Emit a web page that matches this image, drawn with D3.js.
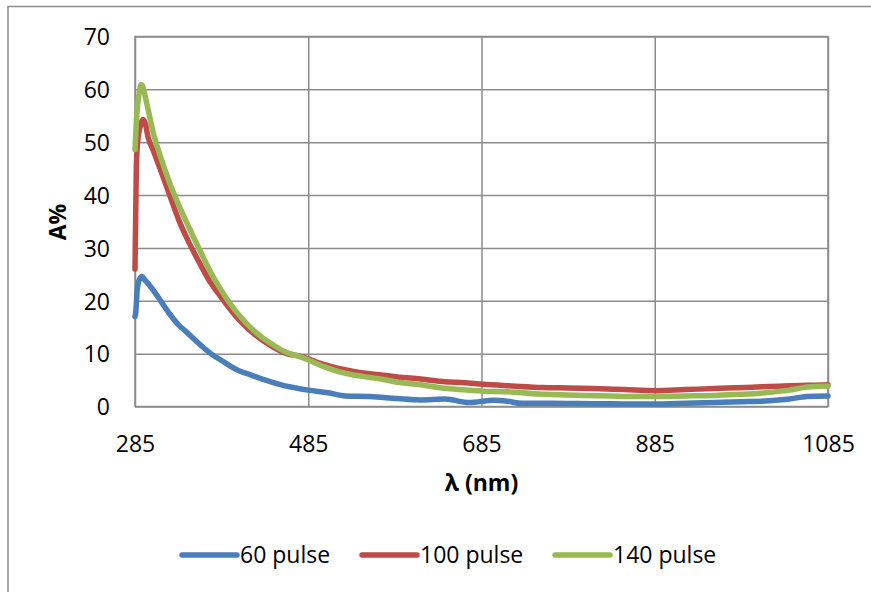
<!DOCTYPE html>
<html>
<head>
<meta charset="utf-8">
<script src="https://cdn.jsdelivr.net/npm/d3@7"></script>
<style>
  html, body { margin: 0; padding: 0; background: #fff; }
  svg { display: block; font-family: "Open Sans", "Liberation Sans", sans-serif; }
</style>
</head>
<body>
<svg id="chart" width="871" height="592"></svg>
<script>
// ---- data ----
const xTicks = [285, 485, 685, 885, 1085];
const yTicks = [0, 10, 20, 30, 40, 50, 60, 70];
const seriesNames = ["60 pulse", "100 pulse", "140 pulse"];
const seriesColors = ["#4A7EBB", "#BE4B48", "#98B954"];

const wl60 = [285, 286, 287.5, 290, 293, 296, 300, 306, 315, 325, 335, 345, 358, 371, 386, 402, 420, 441, 456, 471, 485, 508, 528, 556, 588, 615, 643, 671, 699, 715, 731, 765, 795, 835, 874, 910, 954, 985, 1013, 1040, 1061, 1085];
const a60  = [17, 18, 22, 24, 24.6, 24, 23.3, 22, 19.9, 17.5, 15.5, 14, 12, 10.2, 8.6, 7, 5.9, 4.7, 4.0, 3.5, 3.1, 2.6, 2.0, 1.9, 1.5, 1.25, 1.4, 0.75, 1.2, 1.0, 0.6, 0.6, 0.55, 0.5, 0.45, 0.55, 0.75, 0.9, 1.05, 1.4, 1.9, 2.0];

const wl100 = [285, 286.5, 288, 291, 294, 297, 300, 306, 315, 325, 335, 345, 360, 372, 383, 402, 415, 429, 445, 460, 476, 485, 504, 520, 536, 556, 572, 588, 615, 643, 665, 687, 720, 755, 785, 814, 850, 886, 920, 954, 990, 1033, 1060, 1085];
const a100  = [26, 45, 50, 53, 54.3, 53.5, 51, 48.5, 44.5, 40, 35.5, 31.8, 27, 23.5, 21, 17, 14.8, 12.9, 11.2, 10, 9.5, 9.0, 7.9, 7.2, 6.7, 6.2, 5.9, 5.6, 5.2, 4.7, 4.5, 4.2, 3.9, 3.6, 3.5, 3.4, 3.2, 3.0, 3.2, 3.4, 3.6, 3.9, 4.0, 4.1];

const wl140 = [285, 287, 290, 292, 294, 297, 300, 306, 315, 325, 335, 345, 360, 372, 383, 402, 415, 429, 445, 460, 476, 485, 504, 520, 536, 556, 572, 588, 610, 635, 660, 687, 715, 745, 775, 805, 834, 860, 886, 920, 954, 985, 1013, 1040, 1061, 1085];
const a140  = [48.6, 55, 59.5, 60.9, 60.5, 58.5, 56.3, 51.8, 47, 42.3, 38.3, 34.7, 29.5, 25.5, 22.4, 17.9, 15.5, 13.4, 11.6, 10.2, 9.4, 8.8, 7.5, 6.6, 6.0, 5.5, 5.1, 4.6, 4.2, 3.6, 3.2, 2.9, 2.8, 2.4, 2.2, 2.1, 2.0, 1.9, 1.9, 2.0, 2.1, 2.3, 2.6, 3.1, 3.7, 3.9];

const wavelengths = [wl60, wl100, wl140];
const values = [a60, a100, a140];

// ---- layout ----
const svg = d3.select("#chart");
const plot = { left: 135, right: 828, top: 36.5, bottom: 406.5 };
const gridColor = "#8c8c8c";

// outer chart frame (cut by the window at right/bottom)
svg.append("rect")
  .attr("x", 8).attr("y", 6.5).attr("width", 900).attr("height", 700)
  .attr("fill", "none").attr("stroke", gridColor).attr("stroke-width", 1.5);

const x = d3.scaleLinear().domain([285, 1085]).range([plot.left, plot.right]);
const y = d3.scaleLinear().domain([0, 70]).range([plot.bottom, plot.top]);

// gridlines via axes
const yAxis = d3.axisLeft(y).tickValues(yTicks).tickFormat(d3.format("d"))
  .tickSizeInner(-(plot.right - plot.left)).tickSizeOuter(0).tickPadding(25);
const gy = svg.append("g").attr("transform", `translate(${plot.left},0)`).call(yAxis);
gy.select(".domain").remove();
gy.selectAll(".tick line").attr("stroke", gridColor).attr("stroke-width", 1.5);
gy.selectAll(".tick text").attr("font-size", 23).attr("fill", "#000")
  .attr("font-family", "'Open Sans', sans-serif").attr("dy", "0.36em");

const xAxis = d3.axisBottom(x).tickValues(xTicks).tickFormat(d3.format("d"))
  .tickSizeInner(-(plot.bottom - plot.top)).tickSizeOuter(0).tickPadding(0);
const gx = svg.append("g").attr("transform", `translate(0,${plot.bottom})`).call(xAxis);
gx.select(".domain").remove();
gx.selectAll(".tick line").attr("stroke", gridColor).attr("stroke-width", 1.5);
gx.selectAll(".tick text").attr("font-size", 23).attr("fill", "#000")
  .attr("font-family", "'Open Sans', sans-serif").attr("y", 45).attr("dy", 0);

// plot area border
svg.append("rect")
  .attr("x", plot.left).attr("y", plot.top)
  .attr("width", plot.right - plot.left).attr("height", plot.bottom - plot.top)
  .attr("fill", "none").attr("stroke", gridColor).attr("stroke-width", 1.5);

// series
const seriesData = seriesNames.map((name, i) => ({
  name, color: seriesColors[i],
  pts: wavelengths[i].map((w, j) => [w, values[i][j]])
}));

const line = d3.line().x(d => x(d[0])).y(d => y(d[1])).curve(d3.curveMonotoneX);
svg.append("g").selectAll("path").data(seriesData).join("path")
  .attr("d", d => line(d.pts))
  .attr("fill", "none")
  .attr("stroke", d => d.color)
  .attr("stroke-width", 5.5)
  .attr("stroke-linejoin", "round")
  .attr("stroke-linecap", "round");

// axis titles
svg.append("text")
  .attr("x", (plot.left + plot.right) / 2).attr("y", 491)
  .attr("text-anchor", "middle").attr("font-size", 23).attr("font-weight", "bold")
  .text("λ (nm)");
svg.append("text")
  .attr("transform", "translate(66,222) rotate(-90)")
  .attr("text-anchor", "middle").attr("font-size", 23).attr("font-weight", "bold")
  .text("A%");

// legend
const legendX = [182, 362, 555];
const lg = svg.append("g").selectAll("g").data(seriesData).join("g")
  .attr("transform", (d, i) => `translate(${legendX[i]},555)`);
lg.append("line").attr("x1", 0).attr("x2", 55).attr("y1", 0).attr("y2", 0)
  .attr("stroke", d => d.color).attr("stroke-width", 5.5).attr("stroke-linecap", "round");
lg.append("text").attr("x", 58).attr("y", 0).attr("dy", "0.36em")
  .attr("font-size", 23).attr("fill", "#000").text(d => d.name);
</script>
</body>
</html>
